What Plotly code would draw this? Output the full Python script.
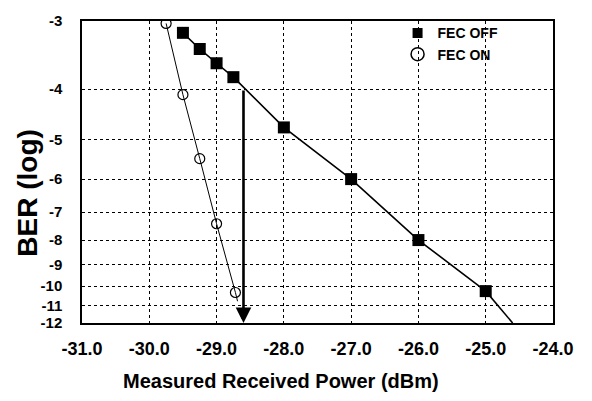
import math
import plotly.graph_objects as go

# ---- data (log10 BER vs received power, dBm) ----
power_off = [-29.5, -29.25, -29.0, -28.75, -28.0, -27.0, -26.0, -25.0]
ber_off = [-3.15, -3.37, -3.58, -3.8, -4.74, -6.0, -8.0, -10.25]
power_off_end = [-25.0, -24.6]
ber_off_end = [-10.25, -12.0]

power_on = [-29.75, -29.5, -29.25, -29.0, -28.72]
ber_on = [-3.03, -4.1, -5.46, -7.4, -10.32]
power_on_end = [-28.72, -28.61]
ber_on_end = [-10.32, -12.0]

arrow_power = -28.6
arrow_ber = [-4.0, -12.0]

y_ticks = [-3, -4, -5, -6, -7, -8, -9, -10, -11, -12]
x_ticks = [-31, -30, -29, -28, -27, -26, -25, -24]


def ber_scale(logber):
    """Map log10(BER) to ln(Q) (standard BER-paper scale)."""
    target = 10 ** logber
    lo, hi = 0.0, 40.0
    for _ in range(200):
        mid = 0.5 * (lo + hi)
        if 0.5 * math.erfc(mid / math.sqrt(2)) > target:
            lo = mid
        else:
            hi = mid
    return math.log(0.5 * (lo + hi))


def ys(vals):
    return [ber_scale(v) for v in vals]


FONT = "Liberation Sans, Arial, sans-serif"

fig = go.Figure()

fig.add_trace(go.Scatter(x=power_off_end, y=ys(ber_off_end), mode="lines",
                         line=dict(color="black", width=1.6), showlegend=False, hoverinfo="skip"))
fig.add_trace(go.Scatter(x=power_on_end, y=ys(ber_on_end), mode="lines",
                         line=dict(color="black", width=1, dash="dash"), showlegend=False, hoverinfo="skip"))
fig.add_trace(go.Scatter(x=power_off, y=ys(ber_off), mode="lines+markers",
                         line=dict(color="black", width=1.6),
                         marker=dict(symbol="square", size=12, color="black"),
                         showlegend=False))
fig.add_trace(go.Scatter(x=power_on, y=ys(ber_on), mode="lines+markers",
                         line=dict(color="black", width=1),
                         marker=dict(symbol="circle-open", size=10, color="black", line=dict(width=1.2)),
                         showlegend=False))
# legend entries
fig.add_trace(go.Scatter(x=[None], y=[None], mode="markers", name="FEC OFF",
                         marker=dict(symbol="square", size=10, color="black")))
fig.add_trace(go.Scatter(x=[None], y=[None], mode="markers", name="FEC ON",
                         marker=dict(symbol="circle-open", size=13, color="black", line=dict(width=1.5))))

fig.add_annotation(x=arrow_power, y=ber_scale(arrow_ber[1]),
                   ax=arrow_power, ay=ber_scale(arrow_ber[0]),
                   xref="x", yref="y", axref="x", ayref="y",
                   showarrow=True, arrowhead=2, arrowsize=1.2, arrowwidth=2.6,
                   arrowcolor="black", text="", standoff=0)

# axis titles placed as annotations (offset as in the original)
fig.add_annotation(text="Measured Received Power (dBm)", xref="paper", yref="paper",
                   x=0.4225, y=-0.192, xanchor="center", yanchor="middle", showarrow=False,
                   font=dict(size=20, weight="bold", family=FONT))
fig.add_annotation(text="BER (log)", xref="paper", yref="paper", textangle=-90,
                   x=-0.1157, y=0.43, xanchor="center", yanchor="middle", showarrow=False,
                   font=dict(size=28, weight="bold", family=FONT))

fig.update_layout(
    width=592, height=401,
    margin=dict(l=82, r=39, t=13, b=78),
    plot_bgcolor="white", paper_bgcolor="white",
    font=dict(family=FONT, color="black"),
    legend=dict(x=0.67, y=1.012, xanchor="left", yanchor="top",
                bgcolor="rgba(0,0,0,0)", font=dict(size=14, family=FONT, weight="bold"),
                itemwidth=30, tracegroupgap=0),
)
fig.update_xaxes(range=[-31, -24], tickvals=x_ticks,
                 ticktext=["%.1f" % v for v in x_ticks],
                 showgrid=True, gridcolor="black", griddash="dot", gridwidth=1,
                 showline=True, linecolor="black", linewidth=1.5, mirror=True,
                 zeroline=False, ticks="", ticklabelstandoff=9,
                 tickfont=dict(size=18, weight="bold"))
fig.update_yaxes(range=[ber_scale(-12), ber_scale(-3)], tickvals=ys(y_ticks),
                 ticktext=[str(v) for v in y_ticks],
                 showgrid=True, gridcolor="black", griddash="dot", gridwidth=1,
                 showline=True, linecolor="black", linewidth=1.5, mirror=True,
                 zeroline=False, ticks="", ticklabelstandoff=15,
                 tickfont=dict(size=15, weight="bold"))

fig.write_html("out.html")
